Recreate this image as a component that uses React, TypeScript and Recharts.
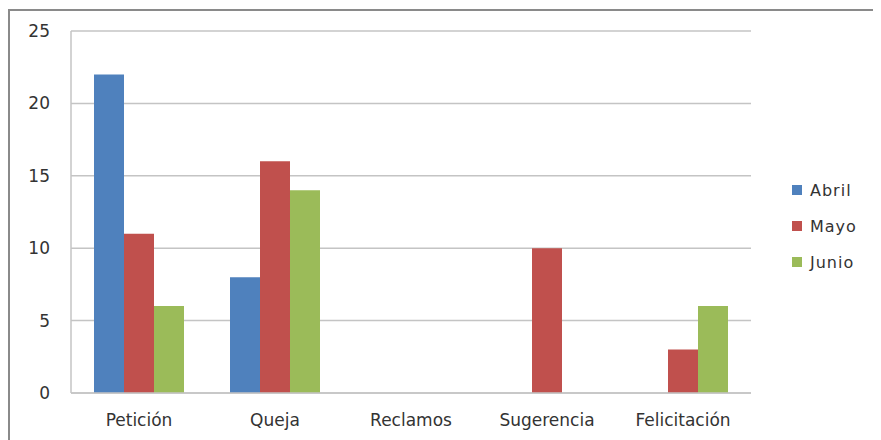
import { Bar, BarChart, CartesianGrid, Legend, XAxis, YAxis } from "recharts";

const categories = ["Petición", "Queja", "Reclamos", "Sugerencia", "Felicitación"];
const abril = [22, 8, 0, 0, 0];
const mayo = [11, 16, 0, 10, 3];
const junio = [6, 14, 0, 0, 6];
const yTicks = [0, 5, 10, 15, 20, 25];

const SERIES = [
  { key: "Abril", color: "#4F81BD" },
  { key: "Mayo", color: "#C0504D" },
  { key: "Junio", color: "#9BBB59" },
];

const data = categories.map((name, i) => ({
  name,
  Abril: abril[i],
  Mayo: mayo[i],
  Junio: junio[i],
}));

const FONT = "'DejaVu Sans', sans-serif";

function LegendBox() {
  return (
    <div style={{ paddingLeft: 41, fontFamily: FONT, fontSize: 16, color: "#333" }}>
      {SERIES.map((s) => (
        <div key={s.key} style={{ height: 36, display: "flex", alignItems: "center" }}>
          <svg width={10} height={10} style={{ marginRight: 8, flexShrink: 0 }}>
            <rect x={0} y={0} width={10} height={10} fill={s.color} />
          </svg>
          <span style={{ letterSpacing: 1 }}>{s.key}</span>
        </div>
      ))}
    </div>
  );
}

export default function App() {
  return (
    <div style={{ position: "relative", width: 873, height: 432, overflow: "hidden", background: "#fff" }}>
      <style>{"body{overflow:hidden}"}</style>
      <div
        style={{
          position: "absolute",
          top: 1,
          left: 0,
          width: 1000,
          height: 600,
          borderTop: "2px solid #8a8a8a",
          borderLeft: "2px solid #8a8a8a",
        }}
      />
      <div style={{ position: "absolute", top: 0, left: 0 }}>
        <BarChart
          width={873}
          height={432}
          data={data}
          margin={{ top: 23, right: 40, left: 0, bottom: 0 }}
          barGap={0}
          barSize={30}
        >
          <CartesianGrid vertical={false} stroke="#c4c4c4" strokeWidth={1.5} />
          <XAxis
            dataKey="name"
            height={47}
            tickSize={0}
            tickMargin={21}
            axisLine={{ stroke: "#c4c4c4", strokeWidth: 1.5 }}
            tickLine={false}
            tick={{ fill: "#333", fontSize: 17, fontFamily: FONT }}
          />
          <YAxis
            width={63}
            domain={[0, 25]}
            ticks={yTicks}
            tickSize={0}
            tickMargin={21}
            axisLine={{ stroke: "#c4c4c4", strokeWidth: 1.5 }}
            tickLine={false}
            tick={{ fill: "#333", fontSize: 17, fontFamily: FONT }}
          />
          <Legend
            layout="vertical"
            align="right"
            verticalAlign="top"
            wrapperStyle={{ top: 164, width: 90 }}
            content={() => <LegendBox />}
          />
          {SERIES.map((s) => (
            <Bar key={s.key} dataKey={s.key} fill={s.color} isAnimationActive={false} />
          ))}
        </BarChart>
      </div>
    </div>
  );
}
